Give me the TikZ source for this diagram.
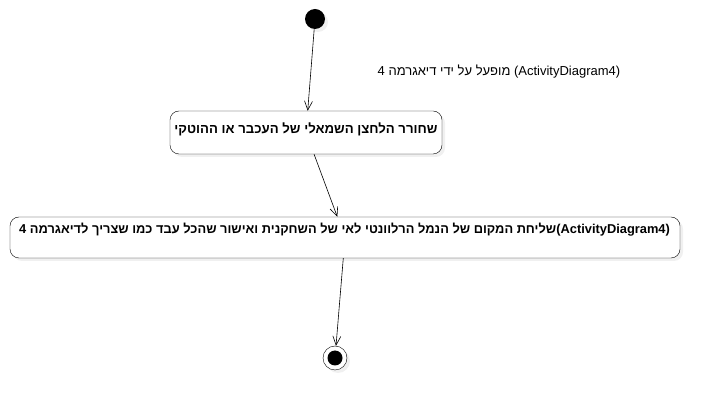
\documentclass[tikz,border=0pt]{standalone}
\usepackage{fontspec}
\setmainfont{Liberation Sans}
\newfontfamily\hebfont[Script=Hebrew]{Liberation Sans}
\TeXXeTstate=1
\usetikzlibrary{arrows.meta,shadows}

\tikzset{
    myshadow/.style={drop shadow={opacity=0.12, shadow xshift=3pt, shadow yshift=-3pt}},
    actbox/.style={draw, rounded corners=9pt, fill=white, myshadow},
    acttext/.style={font=\fontsize{13.2pt}{15pt}\selectfont\bfseries\hebfont, inner sep=0pt},
    flow/.style={-{Straight Barb[length=9pt,width=8pt]}, line width=0.6pt}
}

\begin{document}
\begin{tikzpicture}[x=1pt, y=-1pt]
    \useasboundingbox (0,0) rectangle (718,411);

    % start and end
    \node[circle, fill=black, minimum size=20pt, inner sep=0pt, myshadow] (start) at (315,19) {};
    \node[circle, draw, fill=white, minimum size=24pt, inner sep=0pt, myshadow] (end) at (335,358) {};
    \node[circle, fill=black, minimum size=15pt, inner sep=0pt] at (end) {};

    % actions
    \node[actbox, minimum width=272pt, minimum height=43pt] (release) at (306,132.5) {};
    \node[acttext] (releasetxt) at (306,129.5) {\beginR שחורר הלחצן השמאלי של העכבר או ההוטקי\endR};

    \node[actbox, minimum width=670pt, minimum height=41pt] (send) at (345,237.5) {};
    \node[acttext, font=\fontsize{12.85pt}{15pt}\selectfont\bfseries\hebfont] (sendtxt) at (344.5,230) {\beginR שליחת המקום של הנמל הרלוונטי לאי של השחקנית ואישור שהכל עבד כמו שצריך לדיאגרמה 4\endR(ActivityDiagram4)};

    % note
    \node[font=\fontsize{13pt}{15pt}\selectfont\hebfont, inner sep=0pt] (note) at (499,72) {\beginR מופעל על ידי דיאגרמה 4\endR{} (ActivityDiagram4)};

    % flows
    \draw[flow] (start) -- (release);
    \draw[flow] (release) -- (send);
    \draw[flow] (send) -- (end);
\end{tikzpicture}
\end{document}
